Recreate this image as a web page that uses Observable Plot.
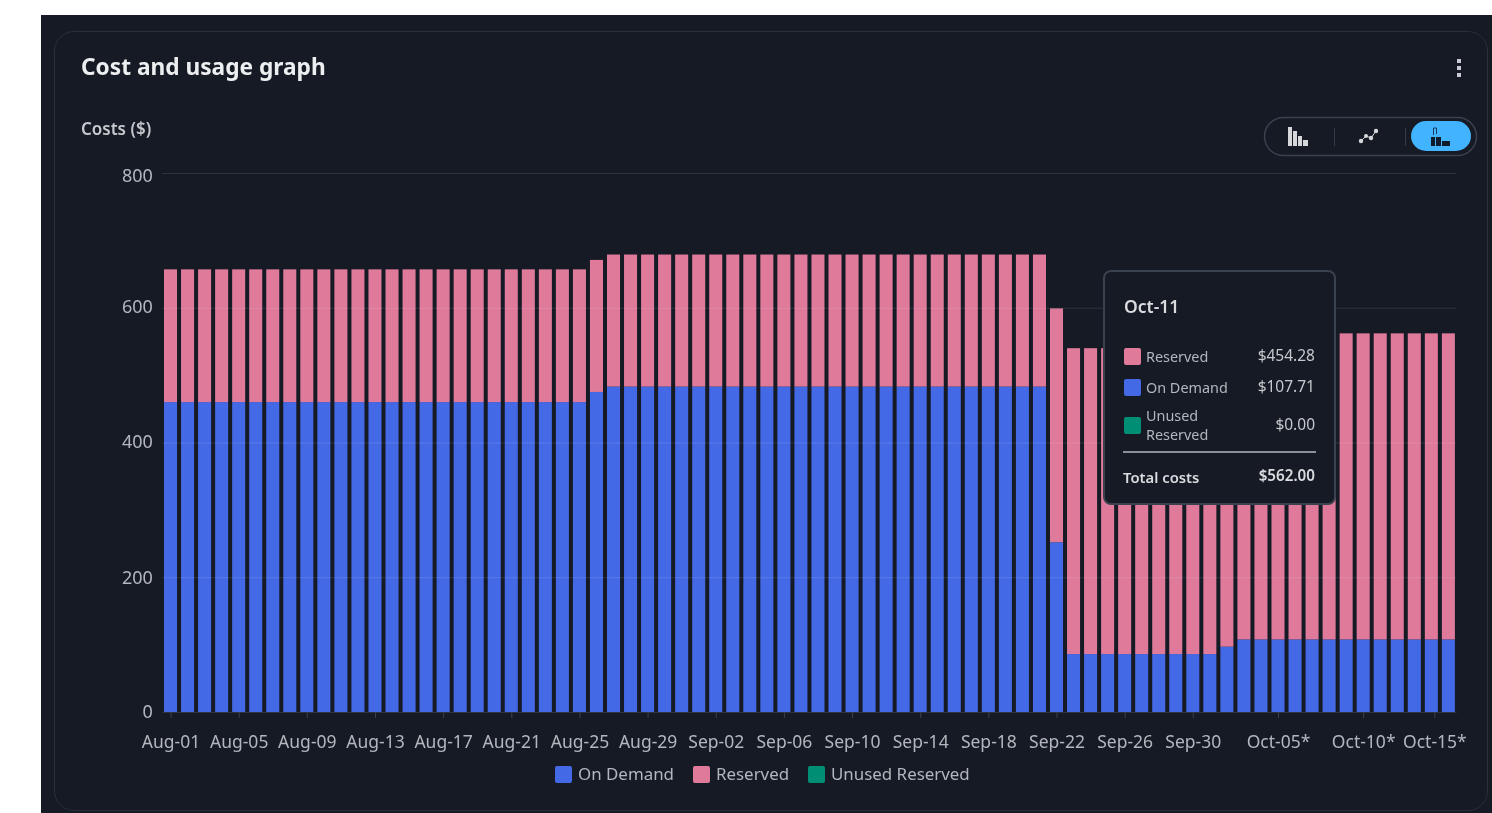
<!DOCTYPE html>
<html>
<head>
<meta charset="utf-8">
<script src="https://cdn.jsdelivr.net/npm/d3@7"></script>
<script src="https://cdn.jsdelivr.net/npm/@observablehq/plot@0.6"></script>
<style>
  html, body { margin: 0; padding: 0; background: #fff; width: 1492px; height: 813px; overflow: hidden; }
  body { font-family: "Noto Sans", sans-serif; position: relative; }
  #page { position: absolute; left: 0; top: 0; width: 1492px; height: 813px; filter: blur(0.35px); }
  .abs { position: absolute; white-space: nowrap; line-height: 1; }
  #panel { position: absolute; left: 41px; top: 15px; width: 1451px; height: 798px; background: #151a24; }
  #card { position: absolute; left: 54px; top: 31px; width: 1434px; height: 780px; border: 1px solid #29303b; border-radius: 20px; box-sizing: border-box; }
  #chart { position: absolute; left: 0; top: 0; }
  #tip { position: absolute; left: 1103px; top: 270px; width: 233px; height: 235px; box-sizing: border-box; background: #151a24; border: 2px solid #3a424f; border-radius: 8px; }
  .sw { position: absolute; width: 17px; height: 17px; border-radius: 2px; }
</style>
</head>
<body>
<div id="page">
<div id="panel"></div>
<div id="card"></div>
<div id="chart"></div>
<div id="overlay"></div>
</div>
<script>
const dates = [
  "Aug-01","Aug-02","Aug-03","Aug-04","Aug-05","Aug-06","Aug-07","Aug-08","Aug-09","Aug-10","Aug-11","Aug-12","Aug-13","Aug-14","Aug-15","Aug-16",
  "Aug-17","Aug-18","Aug-19","Aug-20","Aug-21","Aug-22","Aug-23","Aug-24","Aug-25","Aug-26","Aug-27","Aug-28","Aug-29","Aug-30","Aug-31",
  "Sep-01","Sep-02","Sep-03","Sep-04","Sep-05","Sep-06","Sep-07","Sep-08","Sep-09","Sep-10","Sep-11","Sep-12","Sep-13","Sep-14","Sep-15",
  "Sep-16","Sep-17","Sep-18","Sep-19","Sep-20","Sep-21","Sep-22","Sep-23","Sep-24","Sep-25","Sep-26","Sep-27","Sep-28","Sep-29","Sep-30",
  "Oct-01","Oct-02","Oct-03","Oct-04","Oct-05","Oct-06","Oct-07","Oct-08","Oct-09","Oct-10","Oct-11","Oct-12","Oct-13","Oct-14","Oct-15"
];
const onDemand = [
  460,460,460,460,460,460,460,460,460,460,460,460,460,460,460,460,
  460,460,460,460,460,460,460,460,460,475,483,483,483,483,483,
  483,483,483,483,483,483,483,483,483,483,483,483,483,483,483,
  483,483,483,483,483,483,252,86,86,86,86,86,86,86,86,
  86,97,107.71,107.71,107.71,107.71,107.71,107.71,107.71,107.71,107.71,107.71,107.71,107.71,107.71
];
const reserved = [
  197,197,197,197,197,197,197,197,197,197,197,197,197,197,197,197,
  197,197,197,197,197,197,197,197,197,196,196,196,196,196,196,
  196,196,196,196,196,196,196,196,196,196,196,196,196,196,196,
  196,196,196,196,196,196,347,454,454,454,454,454,454,454,454,
  454,454,454.28,454.28,454.28,454.28,454.28,454.28,454.28,454.28,454.28,454.28,454.28,454.28,454.28
];
const seriesNames = ["On Demand","Reserved","Unused Reserved"];
const seriesColors = ["#4469e6","#df7a9b","#008f74"];
const yTicks = [0,200,400,600,800];
const xTicks = ["Aug-01","Aug-05","Aug-09","Aug-13","Aug-17","Aug-21","Aug-25","Aug-29","Sep-02","Sep-06","Sep-10","Sep-14","Sep-18","Sep-22","Sep-26","Sep-30","Oct-05","Oct-10","Oct-15"];
const starred = ["Oct-05","Oct-10","Oct-15"];

const rows = dates.flatMap((d, i) => [
  {date: d, series: "On Demand", value: onDemand[i]},
  {date: d, series: "Reserved", value: reserved[i]}
]);

const axisColor = "#b3b7bd";
const fmtX = d => starred.includes(d) ? d + "*" : d;
const plot = Plot.plot({
  width: 1492,
  height: 813,
  marginTop: 173,
  marginBottom: 101,
  marginLeft: 162.3,
  marginRight: 35.4,
  style: {background: "transparent", fontFamily: "'Noto Sans', sans-serif", color: axisColor},
  x: {type: "band", domain: dates, paddingInner: 0.235, paddingOuter: 0.1, align: 0.5, round: false, label: null},
  y: {domain: [0, 800], label: null},
  color: {domain: seriesNames, range: seriesColors},
  marks: [
    Plot.barY(rows, {x: "date", y: "value", fill: "series", order: seriesNames}),
    Plot.gridY(yTicks, {stroke: "#ffffff", strokeOpacity: 0.11}),
    Plot.axisY([0,200], {tickSize: 0, tickPadding: 10, fontSize: 18, label: null, fill: axisColor}),
    Plot.axisY([400,600], {tickSize: 0, tickPadding: 10, fontSize: 18, label: null, fill: axisColor, dy: -1}),
    Plot.axisY([800], {tickSize: 0, tickPadding: 10, fontSize: 18, label: null, dy: 3, fill: axisColor}),
    Plot.axisX(xTicks.slice(0, -1), {tickSize: 6, tickPadding: 17, fontSize: 17.5, label: null, tickFormat: fmtX, stroke: "#3a424f", fill: axisColor}),
    Plot.axisX(xTicks.slice(-1), {tickSize: 6, tickPadding: 17, fontSize: 17.5, label: null, tickFormat: fmtX, stroke: "#3a424f", fill: axisColor, textAnchor: "middle", dx: -14})
  ]
});
document.getElementById("chart").appendChild(plot);

const ov = document.getElementById("overlay");
function text(str, left, cy, size, color, weight, right) {
  const el = document.createElement("div");
  el.className = "abs";
  el.textContent = str;
  el.style.fontSize = size + "px";
  el.style.color = color;
  el.style.fontWeight = weight || 400;
  el.style.top = (cy - size / 2) + "px";
  if (right != null) el.style.right = (1492 - right) + "px"; else el.style.left = left + "px";
  ov.appendChild(el);
  return el;
}
function swatch(left, top, color) {
  const el = document.createElement("div");
  el.className = "sw";
  el.style.left = left + "px"; el.style.top = top + "px"; el.style.background = color;
  ov.appendChild(el);
}

text("Cost and usage graph", 81, 67, 22.7, "#eceef0", 700);
text("Costs ($)", 81, 128, 17, "#c5c8cc", 600);

// Legend below the plot
const legendX = [[555,578],[693,716],[808,831]];
seriesNames.forEach((n, i) => {
  swatch(legendX[i][0], 765.5, seriesColors[i]);
  text(n, legendX[i][1], 774, 16.9, axisColor, 400);
});

// Tooltip
const tip = document.createElement("div");
tip.id = "tip";
ov.appendChild(tip);
text("Oct-11", 1124, 307, 17.5, "#d9dbde", 600);
swatch(1124, 348, seriesColors[1]);
text("Reserved", 1146, 357, 14.4, "#b3b7bd");
text("$454.28", null, 356, 15.5, "#c5c8cc", 400, 1315);
swatch(1124, 379, seriesColors[0]);
text("On Demand", 1146, 388, 14.4, "#b3b7bd");
text("$107.71", null, 387, 15.5, "#c5c8cc", 400, 1315);
swatch(1124, 417, seriesColors[2]);
text("Unused", 1146, 416, 14.4, "#b3b7bd");
text("Reserved", 1146, 435, 14.4, "#b3b7bd");
text("$0.00", null, 425, 15.5, "#c5c8cc", 400, 1315);
const sep = document.createElement("div");
sep.className = "abs";
sep.style.cssText = "left:1123px;top:451px;width:193px;height:2px;background:#8b8f96";
ov.appendChild(sep);
text("Total costs", 1123, 477, 14.8, "#d9dbde", 600);
text("$562.00", null, 476, 15.2, "#d9dbde", 600, 1315);

// Toolbar: kebab menu and view toggle
const tb = document.createElement("div");
tb.innerHTML = `
<svg width="1492" height="813" style="position:absolute;left:0;top:0;pointer-events:none">
  <g fill="#c9ccd0">
    <rect x="1457" y="59" width="4" height="4"/><rect x="1457" y="66" width="4" height="4"/><rect x="1457" y="73" width="4" height="4"/>
  </g>
  <rect x="1264.5" y="117.5" width="212" height="38" rx="19" fill="none" stroke="#3a424f" stroke-width="1.5"/>
  <rect x="1411" y="121" width="60" height="30" rx="15" fill="#42b4ff"/>
  <path d="M1334.5 128v18M1405.5 128v18" stroke="#333b48" stroke-width="1"/>
  <g fill="#d5d7da">
    <rect x="1288" y="127" width="4" height="19"/><rect x="1293" y="131" width="4" height="15"/><rect x="1298" y="136" width="4" height="10"/><rect x="1303" y="140" width="5" height="6"/>
  </g>
  <g fill="none" stroke="#d5d7da" stroke-width="1"><path d="M1361 141l5-5 5 2 5-7"/></g>
  <g fill="#d5d7da"><circle cx="1361" cy="141" r="2.2"/><circle cx="1366" cy="136" r="2"/><circle cx="1371" cy="138" r="2.2"/><circle cx="1376" cy="131" r="2.2"/></g>
  <g fill="#0f1b2a">
    <rect x="1431" y="137" width="4" height="9"/><rect x="1436" y="137" width="5" height="9"/><rect x="1442" y="141" width="8" height="5"/>
  </g>
  <path d="M1433.500 135v-7h3v6" fill="none" stroke="#1a3a5c" stroke-width="1"/>
</svg>`;
ov.appendChild(tb);
</script>
</body>
</html>
